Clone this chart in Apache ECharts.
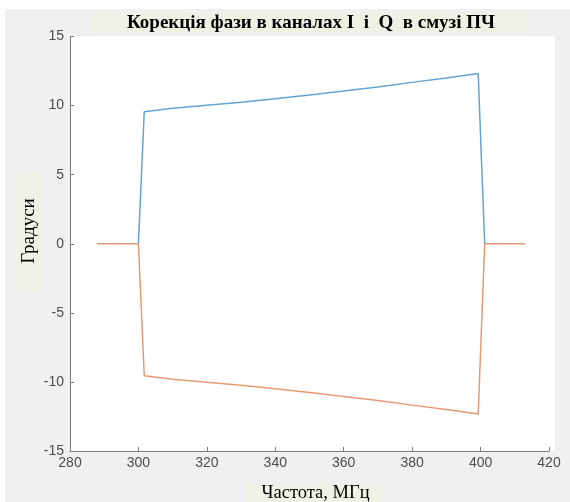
<!DOCTYPE html>
<html>
<head>
<meta charset="utf-8">
<script src="https://cdn.jsdelivr.net/npm/echarts@6/dist/echarts.min.js"></script>
<style>
  html, body { margin: 0; padding: 0; background: #ffffff; }
  #chart { width: 570px; height: 502px; }
</style>
</head>
<body>
<div id="chart"></div>
<script>
// Frequency points (MHz) and phase correction (degrees) for the I and Q channels
const freqI  = [300.0, 301.7, 310, 320, 330, 340, 350, 360, 370, 380, 390, 399.3, 401.2];
const phaseI = [0, 9.55, 9.80, 10.03, 10.25, 10.50, 10.76, 11.05, 11.35, 11.68, 12.00, 12.33, 0];

const freqQ  = [287.8, 300.0, 301.7, 310, 320, 330, 340, 350, 360, 370, 380, 390, 399.3, 401.2, 413.0];
const phaseQ = [0, 0, -9.55, -9.80, -10.03, -10.25, -10.50, -10.76, -11.05, -11.35, -11.68, -12.00, -12.33, 0, 0];

const xTicks = [280, 300, 320, 340, 360, 380, 400, 420];
const yTicks = [-15, -10, -5, 0, 5, 10, 15];

const titleText = 'Корекція фази в каналах I  i  Q  в смузі ПЧ';
const xName = 'Частота, МГц';
const yName = 'Градуси';

const pairs = (xs, ys) => xs.map((x, i) => [x, ys[i]]);

const labelBg = '#eef1e3';
const serif = '"Liberation Serif", "Times New Roman", serif';
const sans = '"Liberation Sans", Arial, sans-serif';

const chart = echarts.init(document.getElementById('chart'));
chart.setOption({
  backgroundColor: '#f0f0f0',
  animation: false,
  grid: { left: 70, right: 21, top: 36.5, bottom: 51, show: false },
  graphic: [
    // white margins of the figure and the plot area
    { type: 'rect', z: -10, shape: { x: 0, y: 0, width: 570, height: 9 }, style: { fill: '#ffffff' }, silent: true },
    { type: 'rect', z: -10, shape: { x: 0, y: 0, width: 5, height: 502 }, style: { fill: '#ffffff' }, silent: true },
    { type: 'rect', z: -10, shape: { x: 70, y: 36.5, width: 485, height: 414.5 }, style: { fill: '#ffffff' }, silent: true },
    // title
    { type: 'rect', z: 1, shape: { x: 92, y: 13, width: 435, height: 20 }, style: { fill: labelBg }, silent: true },
    { type: 'text', z: 2, style: { x: 311, y: 23, text: titleText, font: 'bold 19px ' + serif, fill: '#000', textAlign: 'center', textVerticalAlign: 'middle' }, silent: true },
    // y axis name
    { type: 'rect', z: 1, shape: { x: 16, y: 172, width: 26, height: 120 }, style: { fill: labelBg }, silent: true },
    { type: 'text', z: 2, rotation: Math.PI / 2, x: 29, y: 231, style: { x: 0, y: 0, text: yName, font: '19px ' + serif, fill: '#000', textAlign: 'center', textVerticalAlign: 'middle' }, silent: true },
    // x axis name
    { type: 'rect', z: 1, shape: { x: 246, y: 483, width: 137, height: 19 }, style: { fill: labelBg }, silent: true },
    { type: 'text', z: 2, style: { x: 315.5, y: 493, text: xName, font: '18.5px ' + serif, fill: '#000', textAlign: 'center', textVerticalAlign: 'middle' }, silent: true }
  ],
  xAxis: {
    type: 'value',
    min: xTicks[0], max: xTicks[xTicks.length - 1], interval: 20,
    axisLine: { show: true, onZero: false, lineStyle: { color: '#7a7a7a', width: 1 } },
    axisTick: { show: true, inside: true, length: 4, lineStyle: { color: '#7a7a7a' } },
    axisLabel: { color: '#4d4d4d', fontSize: 14, fontFamily: sans, margin: 5 },
    splitLine: { show: false }
  },
  yAxis: {
    type: 'value',
    min: yTicks[0], max: yTicks[yTicks.length - 1], interval: 5,
    axisLine: { show: true, lineStyle: { color: '#7a7a7a', width: 1 } },
    axisTick: { show: true, inside: true, length: 4, lineStyle: { color: '#7a7a7a' } },
    axisLabel: { color: '#4d4d4d', fontSize: 14, fontFamily: sans, margin: 6 },
    splitLine: { show: false }
  },
  series: [
    {
      name: 'I', type: 'line', data: pairs(freqI, phaseI), showSymbol: false,
      lineStyle: { color: '#64a3d3', width: 1.5 }
    },
    {
      name: 'Q', type: 'line', data: pairs(freqQ, phaseQ), showSymbol: false,
      lineStyle: { color: '#e69a74', width: 1.5 }
    }
  ]
});
</script>
</body>
</html>
